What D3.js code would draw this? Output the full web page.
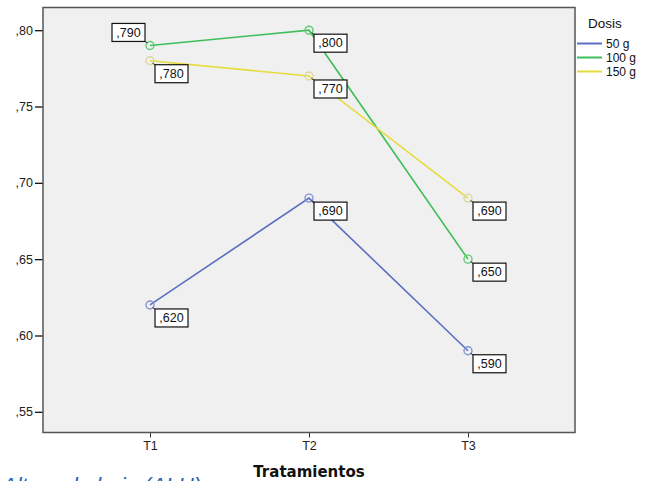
<!DOCTYPE html>
<html>
<head>
<meta charset="utf-8">
<script src="https://cdn.jsdelivr.net/npm/d3@7"></script>
<style>
  html, body { margin: 0; padding: 0; background: #fff; }
  svg { display: block; font-family: "Liberation Sans", Arial, sans-serif; }
</style>
</head>
<body>
<svg id="chart" width="652" height="481"></svg>
<script>
// Treatments on the x axis
const categories = ["T1", "T2", "T3"];
// Dose groups (legend)
const series = ["50 g", "100 g", "150 g"];
// Mean values per dose, one per treatment
const values50 = [0.62, 0.69, 0.59];
const values100 = [0.79, 0.80, 0.65];
const values150 = [0.78, 0.77, 0.69];
// Y axis ticks
const yTicks = [0.55, 0.60, 0.65, 0.70, 0.75, 0.80];

const lineColors = ["#5b6fc0", "#3fbf5a", "#e6dc3c"];
const markerColors = ["#8593d2", "#5fcc72", "#dcd79c"];

const data = series.map((name, i) => ({
  name,
  line: lineColors[i],
  marker: markerColors[i],
  values: [values50, values100, values150][i].map((v, j) => ({ cat: categories[j], v }))
}));

const svg = d3.select("#chart");
const plot = { left: 43, right: 575, top: 7.5, bottom: 432.5 };

const x = d3.scalePoint().domain(categories)
  .range([plot.left, plot.right]).padding(0.673);
const y = d3.scaleLinear().domain([0.53645, 0.81486])
  .range([plot.bottom, plot.top]);

// plot background
svg.append("rect")
  .attr("x", plot.left).attr("y", plot.top)
  .attr("width", plot.right - plot.left).attr("height", plot.bottom - plot.top)
  .attr("fill", "#f0f0f0");

const fmt = d => d3.format(".2f")(d).replace(/^0\./, ",");
const fmt3 = d => d3.format(".3f")(d).replace(/^0\./, ",");

// y axis
const yAxis = svg.append("g")
  .attr("transform", `translate(${plot.left},0)`)
  .call(d3.axisLeft(y).tickValues(yTicks).tickFormat(fmt).tickSize(8).tickPadding(2));
yAxis.select(".domain").remove();
yAxis.selectAll(".tick line").attr("stroke", "#111").attr("stroke-width", 1.3);
yAxis.selectAll(".tick text").attr("font-size", 12.5).attr("fill", "#222")
  .attr("font-family", "Liberation Sans, Arial, sans-serif");

// x axis
const xAxis = svg.append("g")
  .attr("transform", `translate(0,${plot.bottom})`)
  .call(d3.axisBottom(x).tickSize(5).tickPadding(4));
xAxis.select(".domain").remove();
xAxis.selectAll(".tick line").attr("stroke", "#333");
xAxis.selectAll(".tick text").attr("font-size", 12.5).attr("fill", "#222")
  .attr("font-family", "Liberation Sans, Arial, sans-serif");

// plot frame
svg.append("rect")
  .attr("x", plot.left).attr("y", plot.top)
  .attr("width", plot.right - plot.left).attr("height", plot.bottom - plot.top)
  .attr("fill", "none").attr("stroke", "#555").attr("stroke-width", 1.5);

// lines
const line = d3.line().x(d => x(d.cat)).y(d => y(d.v));
svg.append("g").selectAll("path").data(data).join("path")
  .attr("d", d => line(d.values))
  .attr("fill", "none")
  .attr("stroke", d => d.line)
  .attr("stroke-width", 1.6);

// markers
data.forEach(s => {
  svg.append("g").selectAll("circle").data(s.values).join("circle")
    .attr("cx", d => x(d.cat)).attr("cy", d => y(d.v)).attr("r", 4)
    .attr("fill", "none").attr("stroke", s.marker).attr("stroke-width", 1.4);
});

// value labels: below-right by default, above-left if another point sits just below
const labels = svg.append("g");
data.forEach(s => {
  s.values.forEach((d, j) => {
    const px = x(d.cat), py = y(d.v);
    const crowded = data.some(o => o !== s && (y(o.values[j].v) - py) > 0 && (y(o.values[j].v) - py) < 25);
    const w = 33, h = 18;
    const bx = crowded ? px - 5 - w : px + 5;
    const by = crowded ? py - 4 - h : py + 4;
    const cx = crowded ? bx + w : bx;
    const cy = crowded ? by + h : by;
    labels.append("line")
      .attr("x1", crowded ? px - 2.5 : px + 2.5).attr("y1", crowded ? py - 2.5 : py + 2.5)
      .attr("x2", cx).attr("y2", cy)
      .attr("stroke", "#222").attr("stroke-width", 1);
    labels.append("rect")
      .attr("x", bx).attr("y", by).attr("width", w).attr("height", h)
      .attr("fill", "#fff").attr("stroke", "#111").attr("stroke-width", 1.2);
    labels.append("text")
      .attr("x", bx + w / 2).attr("y", by + h / 2 + 4.3)
      .attr("text-anchor", "middle").attr("font-size", 12.5).attr("fill", "#111")
      .text(fmt3(d.v));
  });
});

// x axis title
svg.append("text")
  .attr("x", x("T2")).attr("y", 477)
  .attr("text-anchor", "middle")
  .attr("font-size", 15).attr("font-weight", "bold").attr("fill", "#111")
  .attr("font-family", "DejaVu Sans, sans-serif")
  .text("Tratamientos");

// legend
const legend = svg.append("g");
legend.append("text")
  .attr("x", 588).attr("y", 27.5)
  .attr("font-size", 13.5).attr("fill", "#111")
  .text("Dosis");
const ly = d3.scalePoint().domain(series).range([43.5, 71.5]);
data.forEach(s => {
  legend.append("line")
    .attr("x1", 577).attr("x2", 602)
    .attr("y1", ly(s.name)).attr("y2", ly(s.name))
    .attr("stroke", s.line).attr("stroke-width", 2);
  legend.append("text")
    .attr("x", 606).attr("y", ly(s.name) + 4.5)
    .attr("font-size", 12).attr("fill", "#111")
    .text(s.name);
});

// figure caption, cut at the bottom edge
svg.append("text")
  .attr("x", 2).attr("y", 493)
  .attr("font-size", 22).attr("font-style", "italic").attr("fill", "#2b62b8")
  .text("Altura de hoja (ALH)");
</script>
</body>
</html>
